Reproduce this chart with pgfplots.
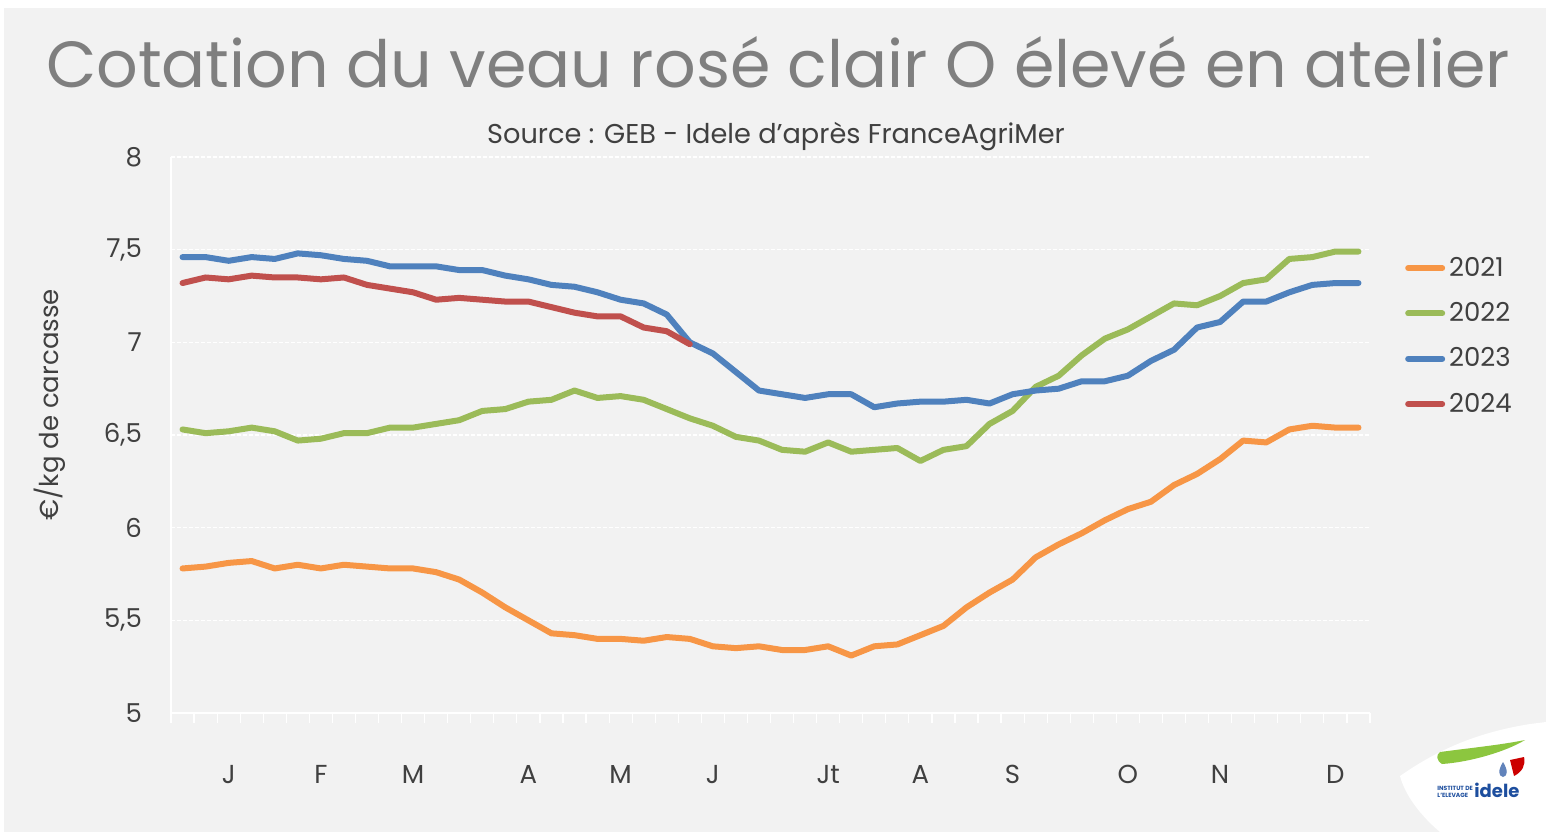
\documentclass[border=0pt]{standalone}
\usepackage{fontspec}
\setmainfont{Poppins}
\usepackage{pgfplots}
\pgfplotsset{compat=1.18}
\usepackage{pgfplotstable}
\definecolor{bg}{HTML}{F2F2F2}
\definecolor{titlegray}{HTML}{7F7F7F}
\definecolor{txt}{HTML}{404040}
\definecolor{c21}{HTML}{F79646}
\definecolor{c22}{HTML}{9BBB59}
\definecolor{c23}{HTML}{4F81BD}
\definecolor{c24}{HTML}{C0504D}
\definecolor{ideleblue}{HTML}{1D4E9E}
\definecolor{idelegreen}{HTML}{8CC63F}

\pgfplotstableread{
x y
0 5.78
1 5.79
2 5.81
3 5.82
4 5.78
5 5.80
6 5.78
7 5.80
8 5.79
9 5.78
10 5.78
11 5.76
12 5.72
13 5.65
14 5.57
15 5.50
16 5.43
17 5.42
18 5.40
19 5.40
20 5.39
21 5.41
22 5.40
23 5.36
24 5.35
25 5.36
26 5.34
27 5.34
28 5.36
29 5.31
30 5.36
31 5.37
32 5.42
33 5.47
34 5.57
35 5.65
36 5.72
37 5.84
38 5.91
39 5.97
40 6.04
41 6.10
42 6.14
43 6.23
44 6.29
45 6.37
46 6.47
47 6.46
48 6.53
49 6.55
50 6.54
51 6.54
}\dataA

\pgfplotstableread{
x y
0 6.53
1 6.51
2 6.52
3 6.54
4 6.52
5 6.47
6 6.48
7 6.51
8 6.51
9 6.54
10 6.54
11 6.56
12 6.58
13 6.63
14 6.64
15 6.68
16 6.69
17 6.74
18 6.70
19 6.71
20 6.69
21 6.64
22 6.59
23 6.55
24 6.49
25 6.47
26 6.42
27 6.41
28 6.46
29 6.41
30 6.42
31 6.43
32 6.36
33 6.42
34 6.44
35 6.56
36 6.63
37 6.76
38 6.82
39 6.93
40 7.02
41 7.07
42 7.14
43 7.21
44 7.20
45 7.25
46 7.32
47 7.34
48 7.45
49 7.46
50 7.49
51 7.49
}\dataB

\pgfplotstableread{
x y
0 7.46
1 7.46
2 7.44
3 7.46
4 7.45
5 7.48
6 7.47
7 7.45
8 7.44
9 7.41
10 7.41
11 7.41
12 7.39
13 7.39
14 7.36
15 7.34
16 7.31
17 7.30
18 7.27
19 7.23
20 7.21
21 7.15
22 7.00
23 6.94
24 6.84
25 6.74
26 6.72
27 6.70
28 6.72
29 6.72
30 6.65
31 6.67
32 6.68
33 6.68
34 6.69
35 6.67
36 6.72
37 6.74
38 6.75
39 6.79
40 6.79
41 6.82
42 6.90
43 6.96
44 7.08
45 7.11
46 7.22
47 7.22
48 7.27
49 7.31
50 7.32
51 7.32
}\dataC

\pgfplotstableread{
x y
0 7.32
1 7.35
2 7.34
3 7.36
4 7.35
5 7.35
6 7.34
7 7.35
8 7.31
9 7.29
10 7.27
11 7.23
12 7.24
13 7.23
14 7.22
15 7.22
16 7.19
17 7.16
18 7.14
19 7.14
20 7.08
21 7.06
22 6.99
}\dataD

\begin{document}
\begin{tikzpicture}
\begin{scope}[x=0.5pt,y=-0.5pt]
\fill[white] (0,0) rectangle (1546,832);
\fill[bg] (4,8) rectangle (1546,832);
\node[text=titlegray, font=\fontsize{32.6}{36}\selectfont, anchor=base] at (778,87) {Cotation du veau rosé clair O élevé en atelier};
\node[text=txt, font=\fontsize{13.6}{16}\selectfont, anchor=base] at (776,143) {Source : GEB - Idele d'après FranceAgriMer};
\end{scope}
\begin{axis}[
  at={(85.5pt,-356.5pt)}, anchor=south west,
  scale only axis, width=599.5pt, height=278pt,
  xmin=-0.5, xmax=51.5, ymin=5, ymax=8,
  axis x line*=bottom, axis y line*=left,
  axis line style={-, white, line width=0.8pt},
  ytick={5,5.5,6,6.5,7,7.5,8},
  yticklabel style={/pgf/number format/use comma, /pgf/number format/assume math mode=true, text=txt, font=\fontsize{13}{16}\selectfont, xshift=-11pt},
  ymajorgrids, major grid style={white, line width=0.6pt, dash pattern=on 2pt off 1pt},
  major tick length=0pt,
  xtick={2,6,10,15,19,23,28,32,36,41,45,50},
  xticklabels={J,F,M,A,M,J,Jt,A,S,O,N,D},
  xticklabel style={text=txt, font=\fontsize{13}{16}\selectfont, anchor=base, yshift=-35pt},
  minor xtick={-0.5,0.5,...,51.5},
  minor tick length=5pt, tick align=outside,
  minor tick style={white, line width=0.6pt},
  ylabel={€/kg de carcasse},
  ylabel style={at={(axis description cs:-0.1009,0.554)}, anchor=center, text=txt, font=\fontsize{13}{16}\selectfont},
  legend style={at={(1.029,0.828)}, anchor=north west, draw=none, fill=none, font=\fontsize{13}{16}\selectfont, text=txt, row sep=7.6pt, inner sep=0pt},
  legend cell align=left,
  legend image code/.code={\draw[#1, line width=3pt, line cap=round] (1.5pt,0pt) -- (18.5pt,0pt);},
  every axis plot/.append style={line width=3pt, line join=round, line cap=round},
]
\addplot[c21] table {\dataA};
\addplot[c22] table {\dataB};
\addplot[c23] table {\dataC};
\addplot[c24] table {\dataD};
\legend{2021,2022,2023,2024}
\end{axis}
\begin{scope}[x=0.5pt,y=-0.5pt]
\fill[white] (1400,776) .. controls (1440,748) and (1480,732) .. (1530,724) -- (1546,722) -- (1546,832) -- (1440,832) .. controls (1420,815) and (1405,795) .. (1400,776);
\fill[idelegreen] (1440,752) .. controls (1470,748) and (1500,745) .. (1525,740) .. controls (1505,752) and (1470,762) .. (1442,764) .. controls (1436,760) and (1436,755) .. (1440,752);
\fill[red!80!black] (1510,760) -- (1524,757) .. controls (1526,765) and (1522,772) .. (1514,776) -- (1510,760);
\fill[ideleblue!70] (1503,762) .. controls (1498,770) and (1498,776) .. (1503,777) .. controls (1508,776) and (1508,770) .. (1503,762);
\node[text=ideleblue, font=\bfseries\fontsize{9}{9}\selectfont, anchor=base west, inner sep=0pt] at (1474,797) {idele};
\node[text=ideleblue, font=\bfseries\fontsize{3}{3.5}\selectfont, anchor=base west, inner sep=0pt, align=left] at (1437,790) {INSTITUT DE};
\node[text=ideleblue, font=\bfseries\fontsize{3}{3.5}\selectfont, anchor=base west, inner sep=0pt, align=left] at (1437,797) {L'ELEVAGE};
\end{scope}
\pgfresetboundingbox
\path[use as bounding box] (0,0) rectangle (773pt,-416pt);
\end{tikzpicture}
\end{document}
